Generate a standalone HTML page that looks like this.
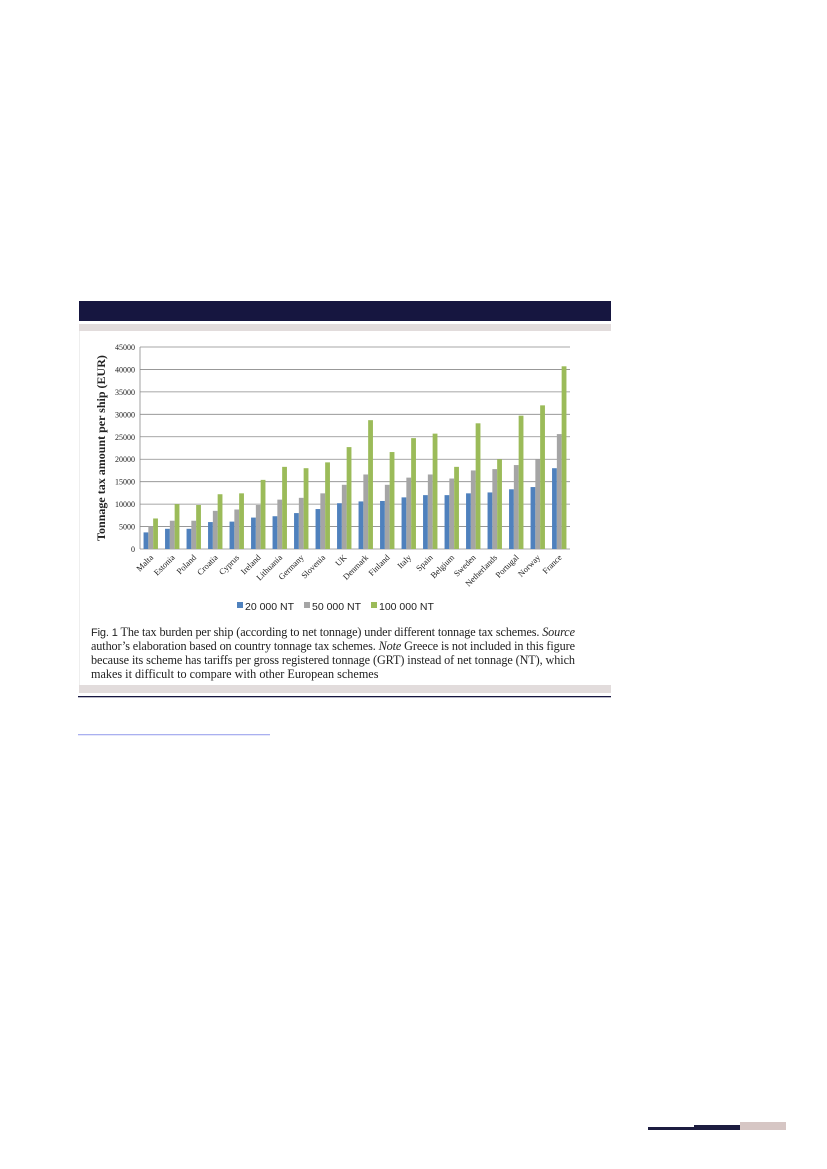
<!DOCTYPE html>
<html><head><meta charset="utf-8"><style>
body{margin:0;background:#fff;}
svg{display:block;}
.cap{font-family:"Liberation Serif",serif;font-size:12.2px;fill:#222;}
</style></head><body>
<svg width="827" height="1169" viewBox="0 0 827 1169" xmlns="http://www.w3.org/2000/svg">
<rect x="79" y="301" width="532" height="20" fill="#161640"/>
<rect x="79" y="324" width="532" height="7" fill="#e2dcdc"/>
<rect x="79" y="331" width="1" height="354" fill="#eee"/>
<rect x="79" y="685" width="532" height="8" fill="#e2dcdc"/>
<rect x="78" y="696" width="533" height="1.3" fill="#161640"/>
<rect x="78" y="734" width="192" height="1.3" fill="#aab0f0"/>
<rect x="648" y="1127" width="46" height="3" fill="#1d1d40"/>
<rect x="694" y="1125" width="46" height="5" fill="#1d1d40"/>
<rect x="740" y="1122" width="46" height="8" fill="#d6c6c4"/>
<g id="chart"></g>
<text transform="translate(105,448) rotate(-90)" text-anchor="middle" style="font-family:'Liberation Serif',serif;font-weight:bold;font-size:12px" fill="#222">Tonnage tax amount per ship (EUR)</text>
<g style="font-family:'Liberation Sans',sans-serif;font-size:10.5px" fill="#222">
<rect x="237" y="602" width="6" height="6" fill="#4f81bd"/><text x="245" y="610">20 000 NT</text>
<rect x="304" y="602" width="6" height="6" fill="#a5a5a5"/><text x="312" y="610">50 000 NT</text>
<rect x="371" y="602" width="6" height="6" fill="#9bbb59"/><text x="379" y="610">100 000 NT</text>
</g>
<text class="cap" x="91" y="636" textLength="484" lengthAdjust="spacing"><tspan style="font-family:'Liberation Sans',sans-serif;font-size:11px">Fig. 1</tspan>  The tax burden per ship (according to net tonnage) under different tonnage tax schemes. <tspan font-style="italic">Source</tspan></text>
<text class="cap" x="91" y="650" textLength="484" lengthAdjust="spacing">author’s elaboration based on country tonnage tax schemes. <tspan font-style="italic">Note</tspan> Greece is not included in this figure</text>
<text class="cap" x="91" y="664" textLength="484" lengthAdjust="spacing">because its scheme has tariffs per gross registered tonnage (GRT) instead of net tonnage (NT), which</text>
<text class="cap" x="91" y="678">makes it difficult to compare with other European schemes</text>
</svg>
<script>
const d=[["Malta",3700,5000,6800],["Estonia",4500,6300,10000],["Poland",4500,6300,9800],["Croatia",6000,8500,12200],["Cyprus",6100,8800,12400],["Ireland",7000,9800,15400],["Lithuania",7300,11000,18300],["Germany",8000,11400,18000],["Slovenia",8900,12400,19300],["UK",10200,14300,22700],["Denmark",10600,16600,28700],["Finland",10700,14300,21600],["Italy",11500,15900,24700],["Spain",12000,16600,25700],["Belgium",12000,15700,18300],["Sweden",12400,17500,28000],["Netherlands",12600,17800,20000],["Portugal",13300,18700,29700],["Norway",13800,20000,32000],["France",18000,25600,40700]];
const x0=140,x1=570,y0=549,yt=347,k=(y0-yt)/45000,w=(x1-x0)/20,bw=4.8;
const c=["#4f81bd","#a5a5a5","#9bbb59"];
let s="";
for(let v=0;v<=45000;v+=5000){const y=y0-v*k;s+=`<line x1="${x0}" x2="${x1}" y1="${y}" y2="${y}" stroke="#8a8a8a" stroke-width="0.8"/>`;
s+=`<text x="${x0-5}" y="${y+3}" text-anchor="end" style="font-family:'Liberation Serif',serif;font-size:8px" fill="#222">${v}</text>`;}
s+=`<line x1="${x0}" x2="${x0}" y1="${yt}" y2="${y0}" stroke="#8a8a8a" stroke-width="0.8"/>`;
d.forEach((r,i)=>{const cx=x0+w*i+w/2;for(let j=0;j<3;j++){const h=r[j+1]*k;s+=`<rect x="${cx-bw*1.5+bw*j}" y="${y0-h}" width="${bw}" height="${h}" fill="${c[j]}"/>`;}
s+=`<text transform="translate(${cx+3},558) rotate(-45)" text-anchor="end" style="font-family:'Liberation Serif',serif;font-size:8.5px" fill="#222">${r[0]}</text>`;});
document.getElementById("chart").innerHTML=s;
</script>
</body></html>
